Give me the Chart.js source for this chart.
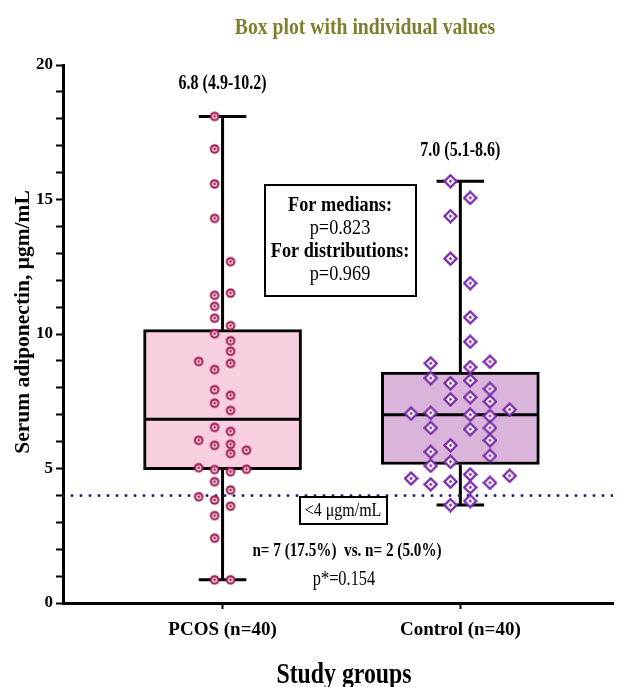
<!DOCTYPE html>
<html>
<head>
<meta charset="utf-8">
<script src="https://cdn.jsdelivr.net/npm/chart.js@4.4.1/dist/chart.umd.min.js"></script>
<style>
  html, body { margin: 0; padding: 0; background: #fff; }
  #wrap { width: 618px; height: 687px; position: relative; }
</style>
</head>
<body>
<div id="wrap"><canvas id="boxChart"></canvas></div>
<script>
/* global Chart */
// groups and summary stats (median, IQR, min-max)
const groups = ['PCOS (n=40)', 'Control (n=40)']
const medians = [6.83, 7.0]
const q1s = [4.96, 5.15]
const q3s = [10.16, 8.58]
const mins = [0.86, 3.64]
const maxs = [18.09, 15.68]
const cutoff = 4

// individual values, with the swarm column each one sits in
const pcosValues = [18.09, 16.88, 15.58, 14.30, 12.69, 11.44, 11.52, 11.03, 10.59, 10.31,
  10.01, 9.75, 9.36, 8.98, 8.91, 8.68, 7.93, 7.72, 7.43, 7.16,
  6.53, 6.38, 6.05, 5.86, 5.90, 5.56, 5.68, 5.03, 4.96, 4.88,
  4.97, 4.51, 4.20, 3.95, 3.83, 3.60, 3.25, 2.41, 0.86, 0.86]
const pcosSlots = [-0.5, -0.5, -0.5, -0.5, 0.5, -0.5, 0.5, -0.5, -0.5, 0.5,
  -0.5, 0.5, 0.5, -1.5, 0.5, -0.5, -0.5, 0.5, -0.5, 0.5,
  -0.5, 0.5, -1.5, -0.5, 0.5, 0.5, 1.5, -1.5, -0.5, 0.5,
  1.5, -0.5, 0.5, -1.5, -0.5, 0.5, -0.5, -0.5, -0.5, 0.5]
const controlValues = [15.68, 15.06, 14.38, 12.80, 11.89, 10.62, 9.71, 8.91, 8.97, 8.77,
  8.36, 8.17, 8.27, 7.96, 7.57, 7.65, 7.49, 7.04, 7.07, 7.00,
  6.95, 7.19, 6.51, 6.46, 6.51, 6.05, 5.86, 5.62, 5.47, 5.25,
  5.10, 4.63, 4.78, 4.73, 4.41, 4.51, 4.30, 4.47, 3.79, 3.64]
const controlSlots = [-0.5, 0.5, -0.5, -0.5, 0.5, 0.5, 0.5, -1.5, 1.5, 0.5,
  -1.5, -0.5, 0.5, 1.5, -0.5, 0.5, 1.5, -2.5, -1.5, 0.5,
  1.5, 2.5, -1.5, 0.5, 1.5, 1.5, -0.5, -1.5, 1.5, -0.5,
  -1.5, -2.5, 0.5, 2.5, -1.5, -0.5, 0.5, 1.5, 0.5, -0.5]

const X_MIN = 0.329
const X_MAX = 2.642
const slotWidth = [0.067, 0.083]
const capHalf = 0.1
const boxHalf = 0.323
const SERIF = '"Liberation Serif", "Times New Roman", serif'

function ringMarker (color) {
  const c = document.createElement('canvas')
  c.width = c.height = 12
  const g = c.getContext('2d')
  g.beginPath()
  g.arc(6, 6, 3.7, 0, Math.PI * 2)
  g.fillStyle = '#fff'
  g.fill()
  g.lineWidth = 2.2
  g.strokeStyle = color
  g.stroke()
  g.beginPath()
  g.arc(6, 6, 1.4, 0, Math.PI * 2)
  g.fillStyle = color
  g.fill()
  return c
}

function diamondMarker (color) {
  const c = document.createElement('canvas')
  c.width = c.height = 15
  const g = c.getContext('2d')
  g.beginPath()
  g.moveTo(7.5, 1.5)
  g.lineTo(13.5, 7.5)
  g.lineTo(7.5, 13.5)
  g.lineTo(1.5, 7.5)
  g.closePath()
  g.fillStyle = '#fff'
  g.fill()
  g.lineWidth = 2.4
  g.strokeStyle = color
  g.stroke()
  g.beginPath()
  g.arc(7.5, 7.5, 1.4, 0, Math.PI * 2)
  g.fillStyle = color
  g.fill()
  return c
}

// whiskers, caps and median as one broken line per group
function whiskerPath (i) {
  const x = i + 1
  const gap = { x, y: null }
  return [
    { x, y: q3s[i] }, { x, y: maxs[i] }, gap,
    { x: x - capHalf, y: maxs[i] }, { x: x + capHalf, y: maxs[i] }, gap,
    { x, y: q1s[i] }, { x, y: mins[i] }, gap,
    { x: x - capHalf, y: mins[i] }, { x: x + capHalf, y: mins[i] }, gap,
    { x: x - boxHalf, y: medians[i] }, { x: x + boxHalf, y: medians[i] }
  ]
}

function swarm (values, slots, i) {
  return values.map((v, k) => ({ x: i + 1 + slots[k] * slotWidth[i], y: v }))
}

function drawText (ctx, text, x, y, size, bold, color, sx) {
  ctx.save()
  ctx.translate(x, y)
  ctx.scale(sx || 1, 1)
  ctx.font = (bold ? 'bold ' : '') + size + 'px ' + SERIF
  ctx.fillStyle = color || '#000'
  ctx.textAlign = 'center'
  ctx.textBaseline = 'middle'
  ctx.fillText(text, 0, 0)
  ctx.restore()
}

const textPlugin = {
  id: 'texts',
  afterDraw (chart) {
    const ctx = chart.ctx
    const ys = chart.scales.y
    const xs = chart.scales.x
    drawText(ctx, 'Box plot with individual values', 365, 28, 24, true, '#7f7f30', 0.82)

    ctx.save()
    ctx.translate(23, 322)
    ctx.rotate(-Math.PI / 2)
    drawText(ctx, 'Serum adiponectin, μgm/mL', 0, 0, 21.5, true, '#000', 1)
    ctx.restore()

    drawText(ctx, 'Study groups', 344, 676, 29, true, '#000', 0.82)

    // summary above each box
    drawText(ctx, '6.8 (4.9-10.2)', xs.getPixelForValue(1), ys.getPixelForValue(19.3), 20, true, '#000', 0.8)
    drawText(ctx, '7.0 (5.1-8.6)', xs.getPixelForValue(2), ys.getPixelForValue(16.8), 20, true, '#000', 0.8)

    // p-value box
    ctx.save()
    ctx.fillStyle = '#fff'
    ctx.fillRect(265, 185, 151, 111)
    ctx.lineWidth = 2
    ctx.strokeStyle = '#000'
    ctx.strokeRect(265, 185, 151, 111)
    ctx.restore()
    drawText(ctx, 'For medians:', 340, 205, 22, true, '#000', 0.83)
    drawText(ctx, 'p=0.823', 340, 228, 22, false, '#000', 0.83)
    drawText(ctx, 'For distributions:', 340, 251, 22, true, '#000', 0.83)
    drawText(ctx, 'p=0.969', 340, 274, 22, false, '#000', 0.83)

    // cut-off label box
    ctx.save()
    ctx.fillStyle = '#fff'
    ctx.fillRect(300, 497, 87, 27)
    ctx.lineWidth = 2
    ctx.strokeStyle = '#000'
    ctx.strokeRect(300, 497, 87, 27)
    ctx.restore()
    drawText(ctx, '<4 μgm/mL', 343, 511, 19.5, false, '#000', 0.82)
    drawText(ctx, 'n= 7 (17.5%)  vs. n= 2 (5.0%)', 347, 551, 18.5, true, '#000', 0.82)
    drawText(ctx, 'p*=0.154', 344, 580, 20, false, '#000', 0.82)
  }
}

const ctx = document.getElementById('boxChart').getContext('2d')

const boxChart = new Chart(ctx, {
  type: 'bar',
  data: {
    datasets: [
      {
        type: 'scatter',
        data: swarm(pcosValues, pcosSlots, 0),
        pointStyle: ringMarker('#a11d55'),
        order: 1
      },
      {
        type: 'scatter',
        data: swarm(controlValues, controlSlots, 1),
        pointStyle: diamondMarker('#7b2da8'),
        order: 1
      },
      {
        type: 'line',
        data: [{ x: X_MIN, y: cutoff }, { x: X_MAX, y: cutoff }],
        borderColor: '#23237f',
        borderWidth: 3,
        borderDash: [0, 9],
        borderCapStyle: 'round',
        pointRadius: 0,
        order: 2
      },
      {
        type: 'line',
        data: whiskerPath(0),
        borderColor: '#000',
        borderWidth: 3,
        pointRadius: 0,
        spanGaps: false,
        order: 3
      },
      {
        type: 'line',
        data: whiskerPath(1),
        borderColor: '#000',
        borderWidth: 3,
        pointRadius: 0,
        spanGaps: false,
        order: 3
      },
      {
        type: 'bar',
        data: groups.map((g, i) => ({ x: i + 1, y: [q1s[i], q3s[i]] })),
        backgroundColor: ['#f8cfe0', '#dab4da'],
        borderColor: '#000',
        borderWidth: 3,
        borderSkipped: false,
        barThickness: 158,
        order: 4
      }
    ]
  },
  options: {
    responsive: true,
    maintainAspectRatio: false,
    animation: false,
    layout: { padding: { top: 65, left: 0, right: 0, bottom: 0 } },
    plugins: {
      legend: { display: false },
      tooltip: { enabled: false },
      title: { display: false }
    },
    scales: {
      x: {
        type: 'linear',
        min: X_MIN,
        max: X_MAX,
        offset: false,
        afterBuildTicks: s => { s.ticks = groups.map((g, i) => ({ value: i + 1 })) },
        afterFit: s => { s.height = 84 },
        ticks: {
          autoSkip: false,
          maxRotation: 0,
          padding: 10,
          color: '#000',
          font: { family: SERIF, size: 19, weight: 'bold' },
          callback: v => groups[v - 1]
        },
        grid: {
          offset: false,
          drawOnChartArea: false,
          tickLength: 6,
          tickWidth: 2,
          tickColor: '#000'
        },
        border: { display: true, color: '#000', width: 3 }
      },
      y: {
        min: 0,
        max: 20,
        afterFit: s => { s.width = 63 },
        ticks: {
          stepSize: 1,
          autoSkip: false,
          padding: 3,
          color: '#000',
          font: { family: SERIF, size: 17, weight: 'bold' },
          callback: v => (v % 5 === 0 ? v : '')
        },
        grid: {
          drawOnChartArea: false,
          tickLength: 7,
          tickWidth: 2,
          tickColor: '#000'
        },
        border: { display: true, color: '#000', width: 3 }
      }
    }
  },
  plugins: [textPlugin]
})
</script>
</body>
</html>
